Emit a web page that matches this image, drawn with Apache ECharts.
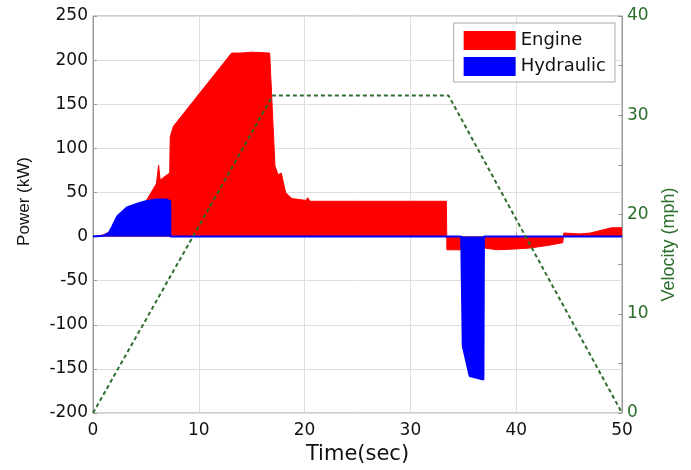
<!DOCTYPE html>
<html><head><meta charset="utf-8">
<script src="https://cdn.jsdelivr.net/npm/echarts@6/dist/echarts.min.js"></script>
<style>html,body{margin:0;padding:0;background:#fff}#c{width:691px;height:470px}</style>
</head><body><div id="c"></div>
<script>
// Data
var engineT = [0, 1, 2, 2.3, 2.6, 3, 4, 5, 5.5, 6, 6.2, 6.35, 6.5, 7, 7.25, 7.3, 7.6, 13.1, 14, 15, 16.7, 17.2, 17.5, 17.8, 18.2, 18.8, 19.5, 20.1, 20.3, 20.5, 33.4, 33.45, 34, 36, 37, 38.2, 40, 41.3, 43, 44.4, 44.5, 46, 47, 48, 49, 50];
var engineP = [0, 2, 8, 14, 9, 15, 25, 40, 50, 60, 81, 64, 62, 70, 72, 113, 125, 208, 208, 209, 208, 80, 70, 72, 50, 43, 42, 41, 44, 40, 40, -15, -15, -15, -13, -15, -14, -13, -10, -7, 4, 3, 4, 7, 10, 10];
var hydT = [0, 1, 1.5, 1.8, 2.3, 3.2, 4.4, 5, 6, 6.9, 7.3, 7.31, 34.8, 34.9, 34.95, 35.6, 36.9, 36.95, 50];
var hydP = [0, 1, 4, 11, 23, 33, 38, 40, 42, 42, 40, 0, 0, -2, -124, -158, -162, 0, 0];
var velT = [0, 17, 33.6, 50];
var velV = [0, 32, 32, 0];
var xTicks = [0, 10, 20, 30, 40, 50];

function pairs(a, b) { return a.map(function (t, i) { return [t, b[i]]; }); }

var chart = echarts.init(document.getElementById('c'));
var wide = 'DejaVu Sans, sans-serif';
var font = 'Liberation Sans, Arial, sans-serif';
var green = '#2b6e2b';
chart.setOption({
  animation: false,
  grid: { left: 93, right: 69, top: 16, bottom: 56, show: true, borderColor: '#9a9a9a', borderWidth: 1 },
  legend: {
    orient: 'vertical', right: 76, top: 23, icon: 'rect', itemWidth: 52, itemHeight: 19, itemGap: 7,
    padding: [8, 9, 6, 10], borderColor: '#aaa', borderWidth: 1, backgroundColor: '#fff',
    textStyle: { fontFamily: wide, fontSize: 18, color: '#111' },
    data: ['Engine', 'Hydraulic']
  },
  xAxis: {
    type: 'value', min: 0, max: 50, interval: 10,
    name: 'Time(sec)', nameLocation: 'middle', nameGap: 31,
    nameTextStyle: { fontFamily: wide, fontSize: 21, color: '#111' },
    axisLine: { lineStyle: { color: '#9a9a9a' } },
    axisTick: { inside: true, length: 4, lineStyle: { color: '#9a9a9a' } },
    axisLabel: { fontFamily: wide, fontSize: 17, color: '#111', margin: 9 },
    splitLine: { show: true, lineStyle: { color: '#dedede' } }
  },
  yAxis: [{
    type: 'value', min: -200, max: 250, interval: 50,
    name: 'Power (kW)', nameLocation: 'middle', nameGap: 60, nameRotate: 90,
    nameTextStyle: { fontFamily: font, fontSize: 17, color: '#111', padding: [0, 0, 0, 26] },
    axisLine: { show: true, lineStyle: { color: '#9a9a9a' } },
    axisTick: { show: true, inside: true, length: 4, lineStyle: { color: '#9a9a9a' } },
    axisLabel: { fontFamily: wide, fontSize: 17, color: '#111', margin: 5 },
    splitLine: { show: true, lineStyle: { color: '#dedede' } }
  }, {
    type: 'value', min: 0, max: 40, interval: 10, position: 'right',
    name: 'Velocity (mph)', nameLocation: 'middle', nameGap: 35, nameRotate: 90,
    nameTextStyle: { fontFamily: font, fontSize: 18, color: green, padding: [0, 60, 0, 0] },
    axisLine: { show: true, lineStyle: { color: '#9a9a9a' } },
    axisTick: { show: true, inside: true, length: 4, lineStyle: { color: '#9a9a9a' } },
    minorTick: { show: true, splitNumber: 2, length: 4, lineStyle: { color: '#9a9a9a' } },
    axisLabel: { fontFamily: wide, fontSize: 17, color: green, margin: 5 },
    splitLine: { show: false }
  }],
  series: [{
    name: 'Engine', type: 'line', yAxisIndex: 0, showSymbol: false, symbol: 'none',
    data: pairs(engineT, engineP),
    itemStyle: { color: '#ff0000' },
    lineStyle: { color: '#ff0000', width: 1 },
    areaStyle: { color: '#ff0000', opacity: 1, origin: 0 },
    z: 2
  }, {
    name: 'Hydraulic', type: 'line', yAxisIndex: 0, showSymbol: false, symbol: 'none',
    data: pairs(hydT, hydP),
    itemStyle: { color: '#0000ff' },
    lineStyle: { color: '#0000ff', width: 2 },
    areaStyle: { color: '#0000ff', opacity: 1, origin: 0 },
    z: 3
  }, {
    name: 'Velocity', type: 'line', yAxisIndex: 1, showSymbol: false, symbol: 'none',
    data: pairs(velT, velV),
    lineStyle: { color: '#2d6e2d', width: 2, type: [4, 3] },
    z: 4
  }]
});
</script></body></html>
